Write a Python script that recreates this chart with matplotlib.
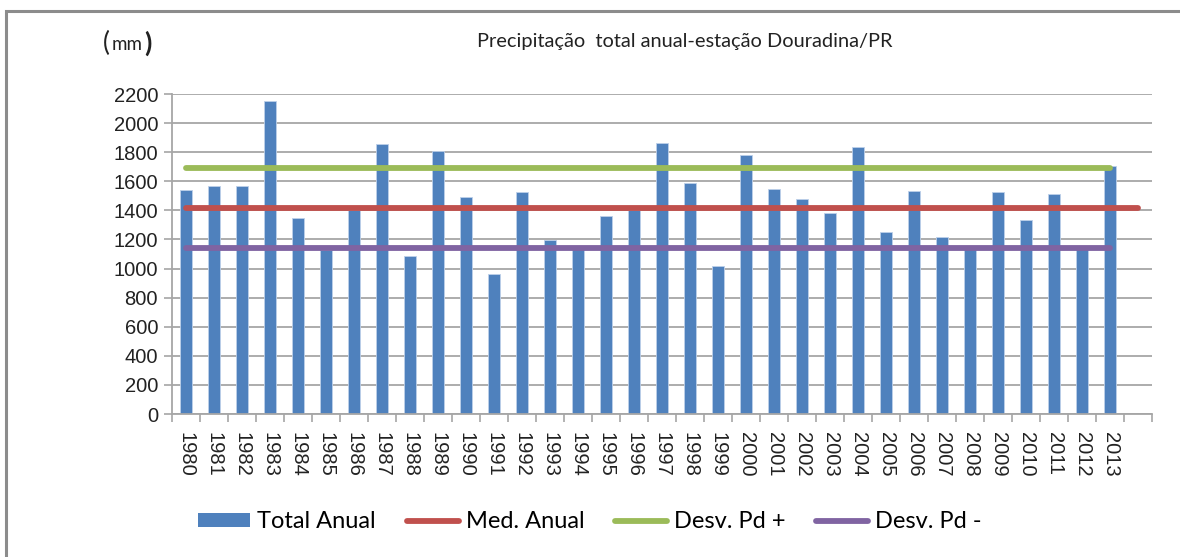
import matplotlib
matplotlib.use('Agg')
import matplotlib.pyplot as plt
from matplotlib.patches import Rectangle, Patch
from matplotlib.lines import Line2D

# dados (mm)
anos = [str(a) for a in range(1980, 2014)]
total_anual = [1540, 1570, 1570, 2155, 1350, 1130, 1400, 1855, 1085, 1805,
               1490, 965, 1525, 1195, 1135, 1360, 1400, 1865, 1585, 1020,
               1780, 1545, 1480, 1380, 1835, 1250, 1535, 1215, 1135, 1525,
               1335, 1515, 1135, 1705]
med_anual = 1417
desv_pos = 1693
desv_neg = 1143
categorias = anos + ['']   # o eixo tem uma categoria vazia no fim

AZUL = '#4F81BD'
VERMELHO = '#C0504D'
VERDE = '#9BBB59'
ROXO = '#8064A2'
CINZA = '#A6A6A6'

plt.rcParams['font.family'] = ['Liberation Sans', 'DejaVu Sans']
titulo_fonte = ['Lato', 'DejaVu Sans']

W, H = 1180, 557
fig = plt.figure(figsize=(W/100, H/100), dpi=100)
ax = fig.add_axes([172/W, 1-414/H, (1152-172)/W, (414-94)/H])

n = len(categorias)
xs = list(range(len(anos)))
ax.bar(xs, total_anual, width=0.42, color=AZUL, edgecolor='#BDD0E9', linewidth=0.6, zorder=2)

lw = 4.2
ax.plot([0, n-1], [med_anual, med_anual], color=VERMELHO, lw=lw, solid_capstyle='round', zorder=3)
ax.plot([0, len(anos)-1], [desv_pos, desv_pos], color=VERDE, lw=lw, solid_capstyle='round', zorder=3)
ax.plot([0, len(anos)-1], [desv_neg, desv_neg], color=ROXO, lw=lw, solid_capstyle='round', zorder=3)

ax.set_xlim(-0.5, n-0.5)
ax.set_ylim(0, 2200)
ax.set_yticks(range(0, 2201, 200))
ax.yaxis.grid(True, color=CINZA, lw=1.3, zorder=0)
ax.set_axisbelow(True)

# ticks nas fronteiras, rotulos no centro
ax.set_xticks([i-0.5 for i in range(n+1)])
ax.set_xticklabels([])
ax.set_xticks(range(n), minor=True)
ax.set_xticklabels(categorias, minor=True, rotation=-90, fontsize=14.5, color='#222222', va='top')
ax.tick_params(axis='x', which='major', length=6, color=CINZA, width=1.2)
ax.tick_params(axis='x', which='minor', length=0, pad=13)
ax.tick_params(axis='y', length=6, color=CINZA, width=1.2, labelsize=14.5, labelcolor='#222222', pad=4)

for s in ['top', 'right']:
    ax.spines[s].set_visible(False)
for s in ['left', 'bottom']:
    ax.spines[s].set_color(CINZA)
    ax.spines[s].set_linewidth(1.3)

fig.text(685/W, 1-42/H, 'Precipitação  total anual-estação Douradina/PR', ha='center', va='center',
         fontsize=14.4, family=titulo_fonte, color='#222222')
fig.text(106/W, 1-43/H, '(', ha='center', va='center', fontsize=19, family=titulo_fonte, color='#222222')
fig.text(127/W, 1-45/H, 'mm', ha='center', va='center', fontsize=13.5, family=titulo_fonte, color='#222222')
fig.text(147.5/W, 1-43/H, ')', ha='center', va='center', fontsize=19, fontweight='bold',
         family=titulo_fonte, color='#222222')

handles = [Patch(facecolor=AZUL, edgecolor='none'),
           Line2D([], [], color=VERMELHO, lw=lw, solid_capstyle='round'),
           Line2D([], [], color=VERDE, lw=lw, solid_capstyle='round'),
           Line2D([], [], color=ROXO, lw=lw, solid_capstyle='round')]
rotulos = ['Total Anual', 'Med. Anual', 'Desv. Pd +', 'Desv. Pd -']
fig.legend(handles, rotulos, loc='center', bbox_to_anchor=(590/W, 1-522/H), ncol=4, frameon=False,
           prop={'family': titulo_fonte, 'size': 17}, handlelength=2.2, handletextpad=0.3,
           columnspacing=1.3, handleheight=0.5, borderpad=0)

fig.patches.append(Rectangle((6/W, -0.1), 1.2, (H-10.5)/H + 0.1, transform=fig.transFigure,
                             fill=False, edgecolor='#8C8C8C', lw=2.2))

fig.savefig('out.png', dpi=100)
